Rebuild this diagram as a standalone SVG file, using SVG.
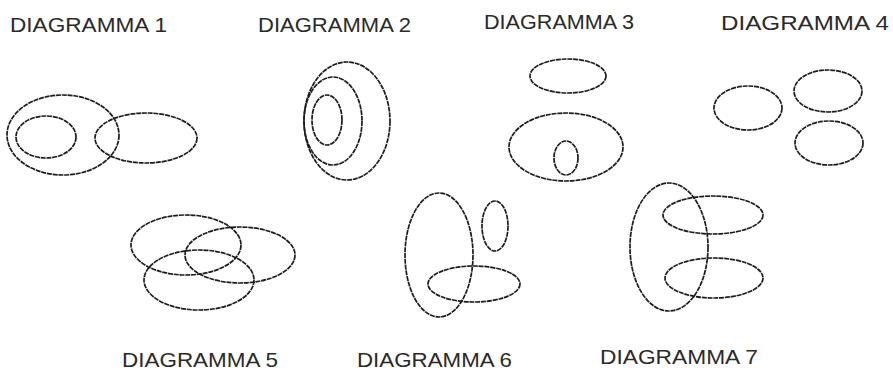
<svg xmlns="http://www.w3.org/2000/svg" width="893" height="374" viewBox="0 0 893 374">
<style>
.e{fill:none;stroke:#1c1c1c;stroke-width:1.7;stroke-dasharray:5 0.8}
.t{font-family:"Liberation Sans",Arial,sans-serif;font-size:21px;fill:#2a2a2a}
</style>
<rect width="893" height="374" fill="#ffffff"/>
<g id="d1">
<ellipse class="e" cx="63" cy="135" rx="56" ry="40"/>
<ellipse class="e" cx="46" cy="137" rx="30" ry="21"/>
<ellipse class="e" cx="146" cy="138" rx="51" ry="25"/>
<text class="t" x="10" y="32" textLength="157" lengthAdjust="spacingAndGlyphs">DIAGRAMMA 1</text>
</g>
<g id="d2">
<ellipse class="e" cx="347" cy="121" rx="43" ry="59"/>
<ellipse class="e" cx="333" cy="121" rx="29" ry="44"/>
<ellipse class="e" cx="327" cy="120" rx="15" ry="25"/>
<text class="t" x="258" y="32" textLength="153" lengthAdjust="spacingAndGlyphs">DIAGRAMMA 2</text>
</g>
<g id="d3">
<ellipse class="e" cx="568" cy="76" rx="38" ry="17"/>
<ellipse class="e" cx="566" cy="147" rx="57" ry="34"/>
<ellipse class="e" cx="566" cy="158" rx="12" ry="17"/>
<text class="t" x="484" y="29" textLength="150" lengthAdjust="spacingAndGlyphs">DIAGRAMMA 3</text>
</g>
<g id="d4">
<ellipse class="e" cx="748" cy="108" rx="34" ry="22"/>
<ellipse class="e" cx="828" cy="91" rx="34" ry="21"/>
<ellipse class="e" cx="829" cy="143" rx="34" ry="22"/>
<text class="t" x="721" y="30" textLength="168" lengthAdjust="spacingAndGlyphs">DIAGRAMMA 4</text>
</g>
<g id="d5">
<ellipse class="e" cx="186" cy="245" rx="55" ry="30"/>
<ellipse class="e" cx="240" cy="255" rx="55" ry="28"/>
<ellipse class="e" cx="199" cy="280" rx="55" ry="30"/>
<text class="t" x="122" y="367" textLength="156" lengthAdjust="spacingAndGlyphs">DIAGRAMMA 5</text>
</g>
<g id="d6">
<ellipse class="e" cx="439" cy="255" rx="34" ry="62"/>
<ellipse class="e" cx="495" cy="226" rx="13" ry="25"/>
<ellipse class="e" cx="474" cy="284" rx="46" ry="18"/>
<text class="t" x="357" y="367" textLength="155" lengthAdjust="spacingAndGlyphs">DIAGRAMMA 6</text>
</g>
<g id="d7">
<ellipse class="e" cx="669" cy="247" rx="39" ry="64"/>
<ellipse class="e" cx="713" cy="215" rx="50" ry="19"/>
<ellipse class="e" cx="714" cy="278" rx="49" ry="20"/>
<text class="t" x="600" y="364" textLength="158" lengthAdjust="spacingAndGlyphs">DIAGRAMMA 7</text>
</g>
<g id="connectors"/>
</svg>
